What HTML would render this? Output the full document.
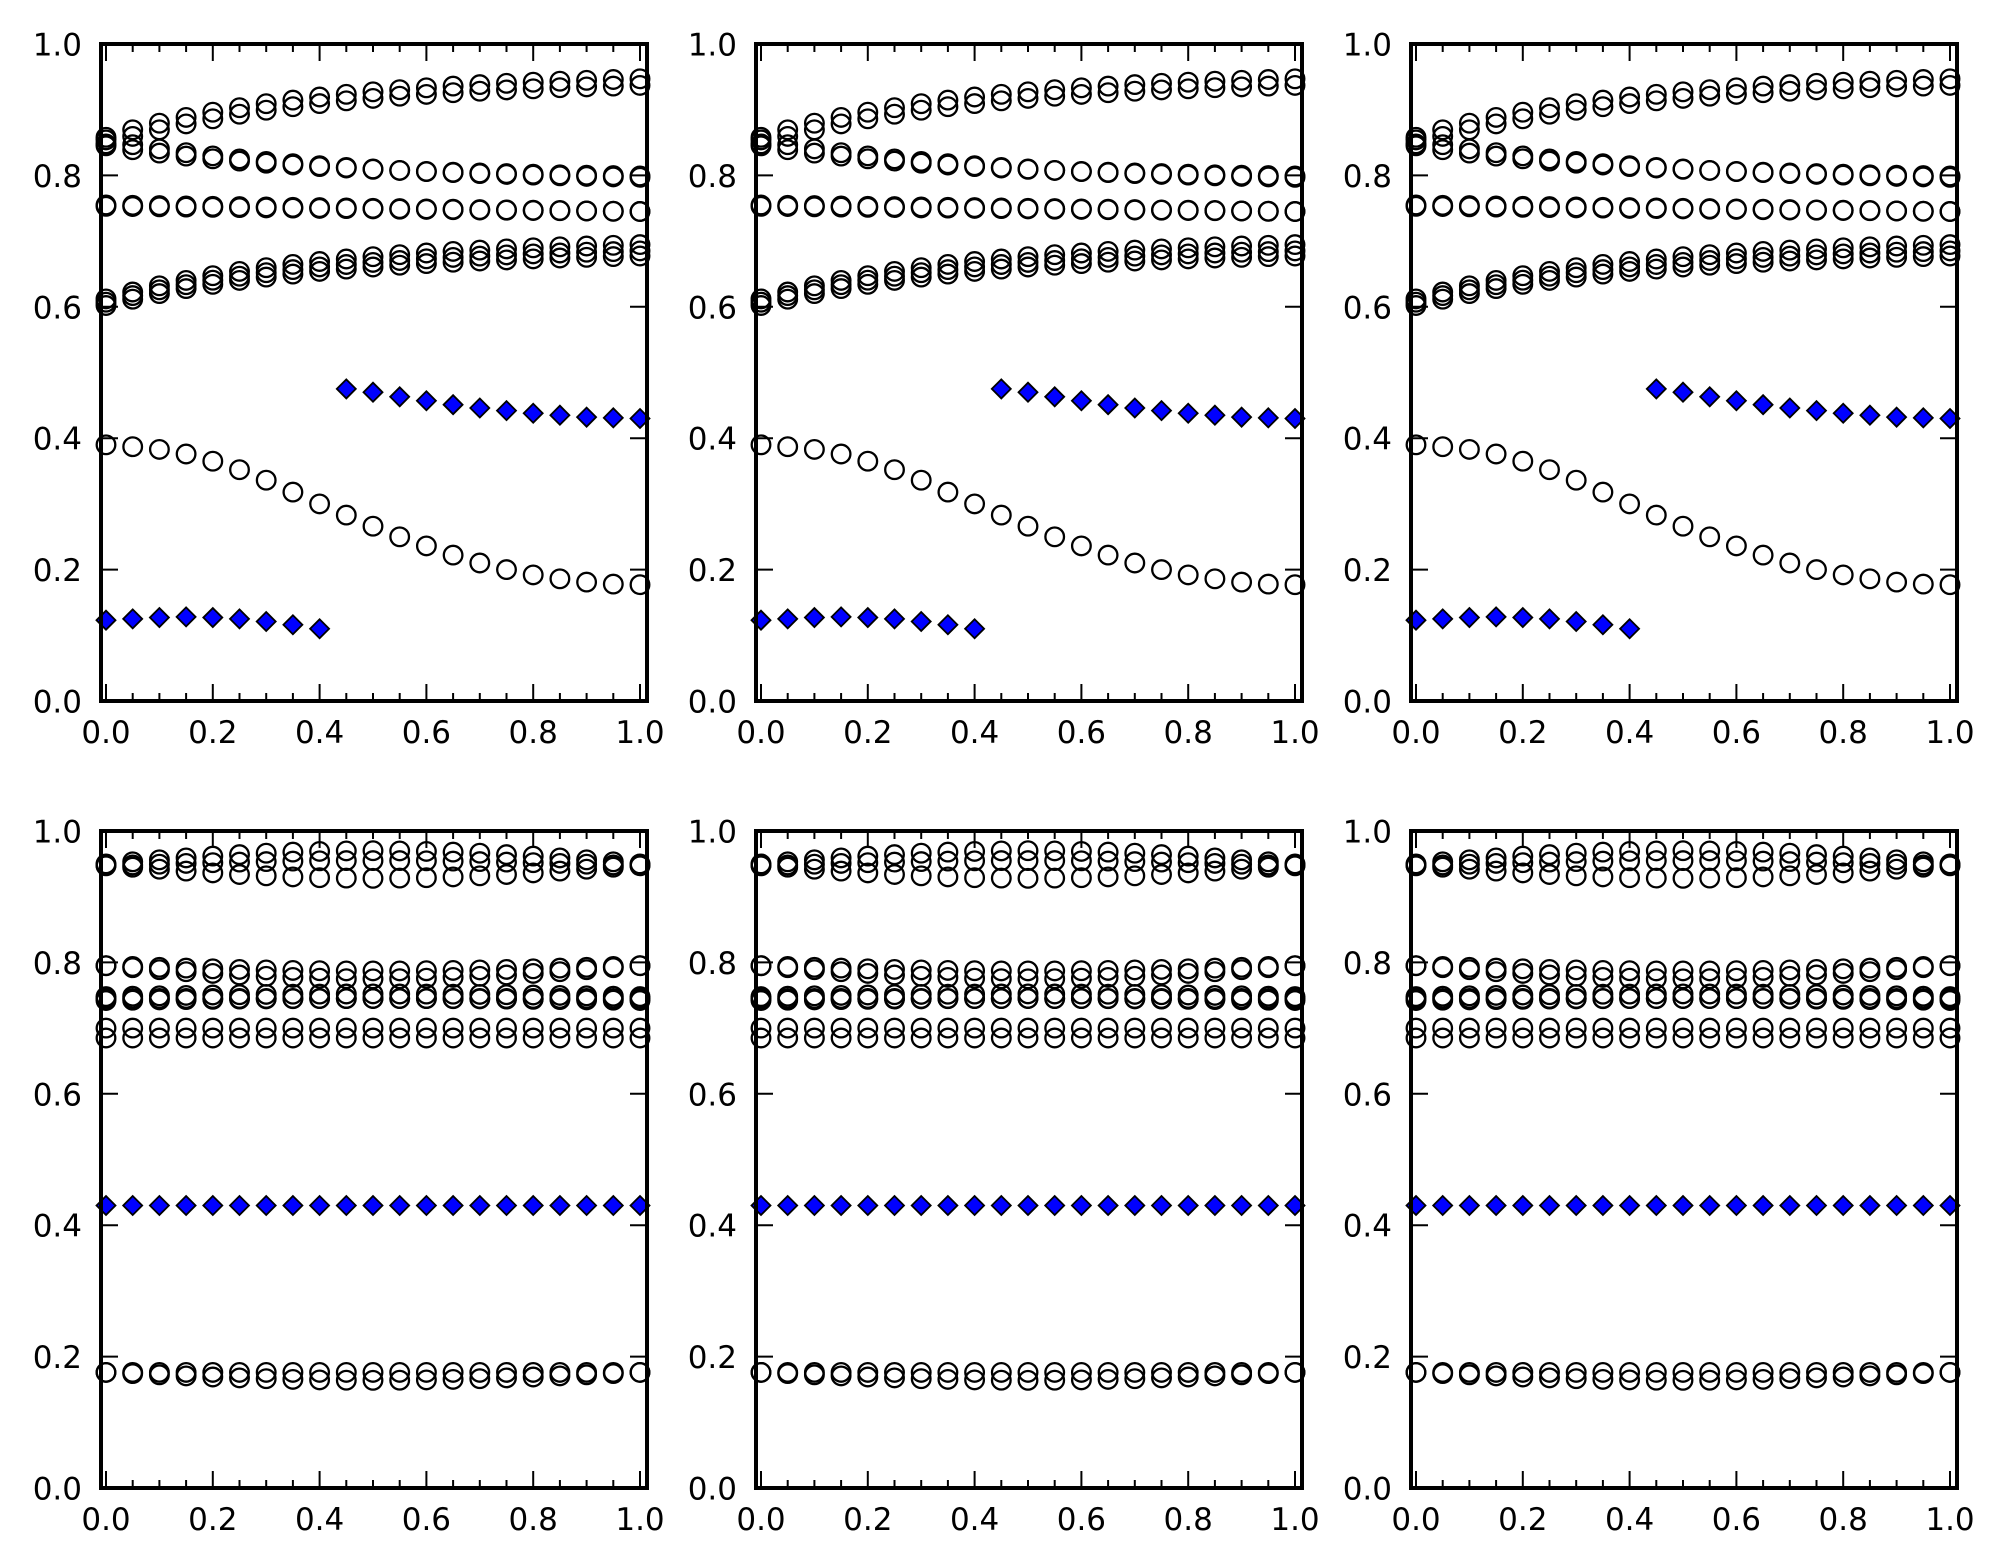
<!DOCTYPE html>
<html><head><meta charset="utf-8"><style>html,body{margin:0;padding:0;background:#fff}svg{display:block}</style></head>
<body>
<svg id="s" xmlns="http://www.w3.org/2000/svg" width="2011" height="1565" viewBox="0 0 2011 1565"></svg>
<script>
const S=document.getElementById('s');
let out='';
const W=546,H=657;
const lefts=[101,756,1411], tops=[44,831];
const xs=[];for(let i=0;i<=20;i++)xs.push(i*0.05);
const E=x=>Math.exp(-2.5*x);
const dtop=[0.123,0.125,0.127,0.128,0.127,0.125,0.121,0.116,0.11];
const dbot=[0.475,0.47,0.463,0.457,0.451,0.446,0.442,0.438,0.435,0.432,0.431,0.43];
const cdesc=[0.39,0.387,0.383,0.376,0.365,0.352,0.336,0.318,0.3,0.283,0.266,0.25,0.236,0.222,0.21,0.2,0.192,0.186,0.181,0.178,0.177];
function topSeries(){
  const c=[],d=[];
  xs.forEach((x,i)=>{
    c.push([x,0.955-0.097*E(x)]);
    c.push([x,0.945-0.097*E(x)]);
    c.push([x,0.792+0.062*E(x)]);
    c.push([x,0.795+0.05*E(x)]);
    c.push([x,0.755-0.01*x]);
    c.push([x,0.753-0.008*x]);
    c.push([x,0.702-0.09*E(x)]);
    c.push([x,0.684-0.082*E(x)]);
    c.push([x,0.692-0.085*E(x)]);
    c.push([x,cdesc[i]]);
    if(i<=8)d.push([x,dtop[i]]);else d.push([x,dbot[i-9]]);
  });
  return [c,d];
}
function botSeries(){
  const c=[],d=[];
  xs.forEach(x=>{
    const s=Math.sin(Math.PI*x);
    c.push([x,0.95+0.02*s]);c.push([x,0.947+0.008*s]);c.push([x,0.948-0.02*s]);
    c.push([x,0.795-0.02*s]);c.push([x,0.795-0.008*s]);
    c.push([x,0.745]);c.push([x,0.748+0.004*s]);c.push([x,0.742+0.003*s]);
    c.push([x,0.70]);c.push([x,0.685]);
    c.push([x,0.176]);c.push([x,0.176-0.012*s]);
    d.push([x,0.43]);
  });
  return [c,d];
}
const T=topSeries(),B=botSeries();
tops.forEach((t,r)=>{
  lefts.forEach(l=>{
    const [c,d]=r==0?T:B;
    const X=x=>l+5+x*534, Y=y=>t+H-y*H;
    out+=`<g>`;
    c.forEach(p=>{out+=`<circle cx="${X(p[0]).toFixed(1)}" cy="${Y(p[1]).toFixed(1)}" r="9.3" fill="none" stroke="#000" stroke-width="2.3"/>`;});
    d.forEach(p=>{const cx=X(p[0]),cy=Y(p[1]);out+=`<path d="M${cx-9.5},${cy}L${cx},${cy-9.5}L${cx+9.5},${cy}L${cx},${cy+9.5}Z" fill="#0000ff" stroke="#000" stroke-width="1.8"/>`;});
    out+=`</g>`;
    for(let i=0;i<=20;i++){const x=X(i*0.05),L=(i%4==0)?17:8;
      out+=`<line x1="${x}" y1="${t+H}" x2="${x}" y2="${t+H-L}" stroke="#000" stroke-width="2"/>`;
      out+=`<line x1="${x}" y1="${t}" x2="${x}" y2="${t+L}" stroke="#000" stroke-width="2"/>`;}
    for(let i=0;i<=5;i++){const y=Y(i*0.2);
      out+=`<line x1="${l}" y1="${y}" x2="${l+17}" y2="${y}" stroke="#000" stroke-width="2"/>`;
      out+=`<line x1="${l+W}" y1="${y}" x2="${l+W-17}" y2="${y}" stroke="#000" stroke-width="2"/>`;
      out+=`<text x="${l-19}" y="${y+11.5}" text-anchor="end">${(i*0.2).toFixed(1)}</text>`;
      out+=`<text x="${X(i*0.2)}" y="${t+H+42}" text-anchor="middle">${(i*0.2).toFixed(1)}</text>`;}
    out+=`<rect x="${l}" y="${t}" width="${W}" height="${H}" fill="none" stroke="#000" stroke-width="4"/>`;
  });
});
S.innerHTML=`<g font-family="DejaVu Sans, Liberation Sans, sans-serif" font-size="31" fill="#000">`+out+`</g>`;
</script>
</body></html>
